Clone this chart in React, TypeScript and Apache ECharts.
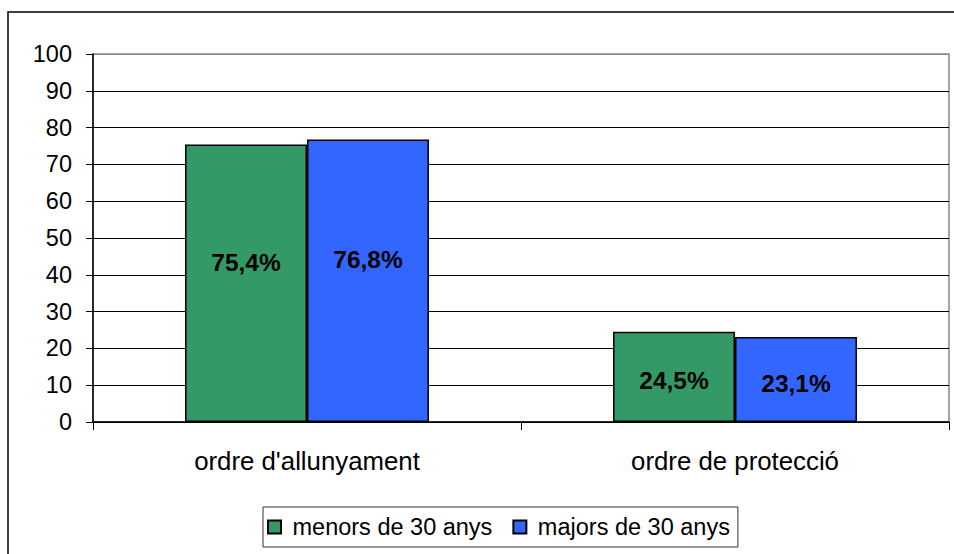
import React, { useEffect, useRef } from "react";
import * as echarts from "echarts";

const categories = ["ordre d'allunyament", "ordre de protecció"];
const seriesNames = ["menors de 30 anys", "majors de 30 anys"];
const menors = [75.4, 24.5];
const majors = [76.8, 23.1];
const yTicks = [0, 100, 10];
const colors = ["#339966", "#3366FF"];
const labelOffsets = [[0, -21], [0, 4]];

const FONT = "'Liberation Sans', Arial, sans-serif";

function fmt(p: any) {
  return String(p.value).replace(".", ",") + "%";
}

export default function App() {
  const ref = useRef<HTMLDivElement>(null);
  useEffect(() => {
    document.body.style.margin = "0";
    const chart = echarts.init(ref.current!, null, { renderer: "svg" });
    const splitColors = new Array(10).fill("#000").concat(["#888"]);
    const mk = (vals: number[]) =>
      vals.map((v, i) => ({ value: v, label: { offset: labelOffsets[i] } }));
    const labelStyle = {
      show: true,
      position: "inside",
      formatter: fmt,
      fontSize: 24.5,
      fontWeight: "bold",
      color: "#000",
      fontFamily: FONT,
    };
    chart.setOption({
      animation: false,
      backgroundColor: "#fff",
      textStyle: { fontFamily: FONT },
      graphic: [
        {
          type: "rect",
          shape: { x: 8, y: 12, width: 970, height: 570 },
          style: { fill: "none", stroke: "#000", lineWidth: 1.5 },
          silent: true,
          z: -10,
        },
      ],
      grid: {
        left: 93,
        top: 54,
        right: 5,
        bottom: 132,
        show: true,
        borderColor: "#888",
        borderWidth: 1.5,
        backgroundColor: "transparent",
      },
      legend: {
        left: 263,
        top: 507,
        orient: "horizontal",
        padding: [8, 8, 8, 4],
        borderColor: "#333",
        borderWidth: 1,
        itemWidth: 26,
        itemHeight: 13,
        itemGap: 20,
        icon: "path://M0,0H10V10H0Z",
        textStyle: { fontSize: 23.5, color: "#000", fontFamily: FONT },
        data: seriesNames,
      },
      xAxis: {
        type: "category",
        data: categories,
        axisLine: { show: true, lineStyle: { color: "#000", width: 1.5 } },
        axisTick: { show: true, length: 8, lineStyle: { color: "#000" } },
        axisLabel: { fontSize: 25.8, color: "#000", margin: 26, fontFamily: FONT },
      },
      yAxis: {
        type: "value",
        min: yTicks[0],
        max: yTicks[1],
        interval: yTicks[2],
        axisLine: { show: true, lineStyle: { color: "#000", width: 1.5 } },
        axisTick: { show: true, length: 7, lineStyle: { color: "#000" } },
        axisLabel: { fontSize: 23.5, color: "#000", margin: 21, fontFamily: FONT },
        splitLine: { show: true, lineStyle: { color: splitColors, width: 1 } },
      },
      series: [
        {
          name: seriesNames[0],
          type: "bar",
          data: mk(menors),
          barGap: "0%",
          barCategoryGap: "43%",
          itemStyle: { color: colors[0], borderColor: "#000", borderWidth: 1.5 },
          label: labelStyle,
        },
        {
          name: seriesNames[1],
          type: "bar",
          data: mk(majors),
          barGap: "0%",
          barCategoryGap: "43%",
          itemStyle: { color: colors[1], borderColor: "#000", borderWidth: 1.5 },
          label: labelStyle,
        },
      ],
    });
    return () => chart.dispose();
  }, []);
  return (
    <div
      ref={ref}
      style={{ position: "fixed", left: 0, top: 0, width: 954, height: 554 }}
    />
  );
}
